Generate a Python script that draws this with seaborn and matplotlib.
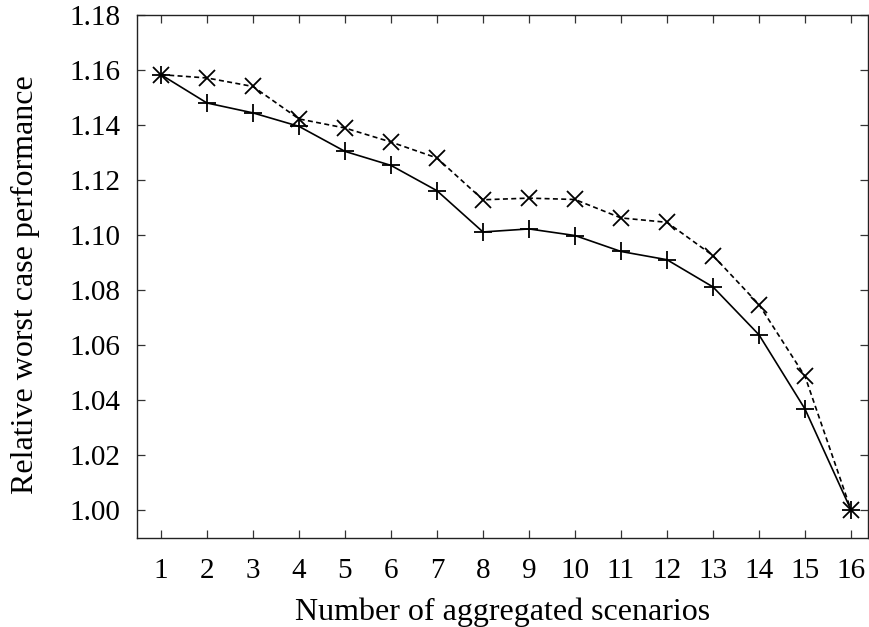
import matplotlib
matplotlib.use("Agg")
import matplotlib.pyplot as plt
import seaborn as sns
import pandas as pd

scenarios = list(range(1, 17))
solid_values = [1.1583, 1.1480, 1.1444, 1.1395, 1.1304, 1.1253, 1.1161, 1.1011,
                1.1022, 1.0998, 1.0940, 1.0910, 1.0811, 1.0637, 1.0367, 1.0000]
dashed_values = [1.1583, 1.1571, 1.1540, 1.1422, 1.1389, 1.1338, 1.1280, 1.1128,
                 1.1134, 1.1129, 1.1062, 1.1046, 1.0925, 1.0747, 1.0486, 1.0000]
y_ticks = [1.00, 1.02, 1.04, 1.06, 1.08, 1.10, 1.12, 1.14, 1.16, 1.18]

sns.set_theme(style="ticks")
plt.rcParams["font.family"] = ["Liberation Serif", "DejaVu Serif"]

fig = plt.figure(figsize=(8.69, 6.27), dpi=100)
ax = fig.add_axes([0.1582, 0.1415, 0.8412, 0.8346])

df_solid = pd.DataFrame({"x": scenarios, "y": solid_values})
df_dashed = pd.DataFrame({"x": scenarios, "y": dashed_values})

sns.lineplot(data=df_solid, x="x", y="y", ax=ax, color="black", linewidth=1.2,
             marker="+", markersize=13, markeredgewidth=1.3, markeredgecolor="black")
sns.lineplot(data=df_dashed, x="x", y="y", ax=ax, color="black", linewidth=1.2,
             linestyle=(0, (3, 2)), marker="x", markersize=11, markeredgewidth=1.3,
             markeredgecolor="black")

ax.set_xlim(0.49, 16.38)
ax.set_ylim(0.9897, 1.18)
ax.set_xticks(scenarios)
ax.set_xticklabels([str(s) for s in scenarios])
ax.set_yticks(y_ticks)
ax.set_yticklabels([f"{v:.2f}" for v in y_ticks])

for side in ["left", "right", "top", "bottom"]:
    ax.spines[side].set_visible(True)
    ax.spines[side].set_linewidth(1.0)
    ax.spines[side].set_color("#222222")

ax.tick_params(axis="both", which="major", direction="in", length=6, width=0.9,
               color="#333333", labelsize=21, top=True, right=True,
               labelcolor="black")
ax.tick_params(axis="y", pad=12)
ax.tick_params(axis="x", pad=14)

ax.set_xlabel("Number of aggregated scenarios", fontsize=23, labelpad=10, color="black")
ax.set_ylabel("Relative worst case performance", fontsize=23, color="black")
ax.yaxis.set_label_coords(-0.133, 0.485)

fig.savefig("out.png", dpi=100)
